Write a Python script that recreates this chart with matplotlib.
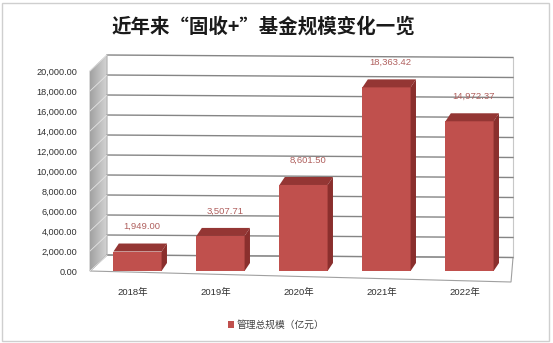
import matplotlib
matplotlib.use("Agg")
import matplotlib.pyplot as plt
from matplotlib.patches import Polygon, Rectangle
import numpy as np

plt.rcParams['font.family'] = ['Liberation Sans', 'Noto Sans CJK SC', 'DejaVu Sans']

# data
years  = ['2018年', '2019年', '2020年', '2021年', '2022年']
values = [1949.00, 3507.71, 8601.50, 18363.42, 14972.37]
yticks = [0, 2000, 4000, 6000, 8000, 10000, 12000, 14000, 16000, 18000, 20000]
title  = '近年来“固收+”基金规模变化一览'
series = '管理总规模（亿元）'

front_c = '#C0504D'
top_c   = '#943634'
side_c  = '#8A2F2D'
grid_c  = '#858585'

fig = plt.figure(figsize=(5.53, 3.43), dpi=100)
ax = fig.add_axes([0.1586, 0.1720, 0.7805, 0.6793])
ax.set_xlim(-0.6, 4.6)
ax.set_ylim(-1300, 22000)
for s in ax.spines.values():
    s.set_visible(False)

# 3d geometry (data units)
wx0, wx1 = -0.572, -0.367      # left wall front / back x
wxr = 4.524                    # back wall right x
wdy = 1600                     # wall depth rise
slope = 250                    # perspective drop at right end

# left wall with gradient
wall = Polygon([(wx0, 0), (wx0, 20000), (wx1, 20000 + wdy), (wx1, wdy)],
               closed=True, facecolor='none', edgecolor='#A0A0A0', lw=0.6, zorder=2)
ax.add_patch(wall)
grad = np.linspace(0.0, 1.0, 64).reshape(1, -1)
im = ax.imshow(grad, extent=[wx0, wx1, 0, 20000 + wdy], aspect='auto',
               cmap=matplotlib.colors.LinearSegmentedColormap.from_list('w', ['#A2A2A2', '#D6D6D6']),
               zorder=1)
im.set_clip_path(wall)

# floor
floor = Polygon([(wx0, 0), (wx1, wdy), (wxr, wdy - slope), (4.50, -1100)],
                closed=True, facecolor='white', edgecolor='#A0A0A0', lw=0.8, zorder=1)
ax.add_patch(floor)
ax.plot([wxr, wxr], [wdy - slope, 20000 + wdy - slope], color='#C8C8C8', lw=0.8, zorder=1)

# gridlines on back wall and left wall
for v in yticks:
    ax.plot([wx1, wxr], [v + wdy, v + wdy - slope], color=grid_c, lw=1.0, zorder=1.5)
    ax.plot([wx0, wx1], [v, v + wdy], color='#E4E4E4', lw=0.6, zorder=2.5)

# bars
x = np.arange(len(years))
w = 0.58
bdx, bdy = 0.065, 800
ax.bar(x, values, width=w, color=front_c, zorder=4)
for xi, v in zip(x, values):
    l, r = xi - w / 2, xi + w / 2
    ax.add_patch(Polygon([(l, v), (l + bdx, v + bdy), (r + bdx, v + bdy), (r, v)],
                         closed=True, facecolor=top_c, edgecolor='none', zorder=4))
    ax.add_patch(Polygon([(r, 0), (r + bdx, bdy), (r + bdx, v + bdy), (r, v)],
                         closed=True, facecolor=side_c, edgecolor='none', zorder=4))
    ax.annotate(f'{v:,.2f}', (xi + bdx / 2, v + bdy), xytext=(1, 9),
                textcoords='offset points', ha='center', va='bottom',
                fontsize=6.8, color='#B0605E', zorder=5)

# axes labels
ax.set_yticks(yticks)
ax.set_yticklabels([f'{v:,.2f}' for v in yticks], fontsize=6.6, color='#303030')
ax.set_xticks(x - 0.06)
ax.set_xticklabels(years, fontsize=6.8, color='#303030')
ax.tick_params(axis='y', length=0, pad=7.5)
ax.tick_params(axis='x', length=0, pad=3)

# title
fig.text(263 / 553, 1 - 27 / 343, title, ha='center', va='center', fontsize=14,
         family=['Noto Sans CJK SC', 'DejaVu Sans'], weight='bold', color='#1A1A1A')

# legend
h = Rectangle((0, 0), 1, 1, facecolor=front_c)
fig.legend([h], [series], loc='center', bbox_to_anchor=(276 / 553, 1 - 325 / 343),
           frameon=False, handlelength=0.6, handleheight=0.6, handletextpad=0.3,
           prop={'family': ['Noto Sans CJK SC'], 'size': 7}, labelcolor='#404040')

# outer border
fig.patches.append(Rectangle((2 / 553, 2 / 343), 547 / 553, 338 / 343, transform=fig.transFigure,
                             fill=False, edgecolor='#CFCFCF', lw=1.0))

fig.savefig('out.png', dpi=100)
